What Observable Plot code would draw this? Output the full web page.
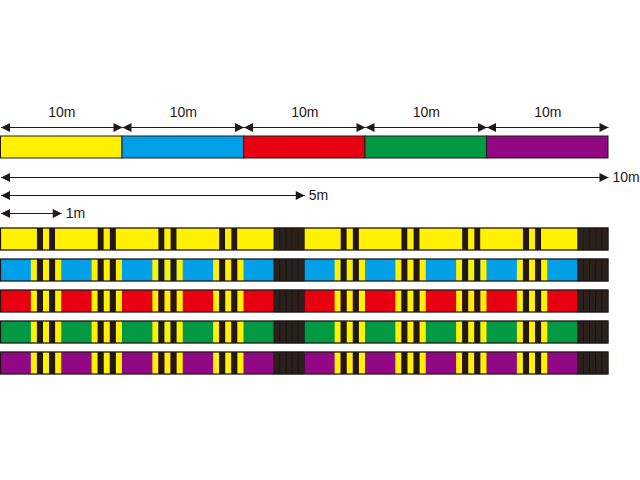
<!DOCTYPE html>
<html><head><meta charset="utf-8">
<script src="https://cdn.jsdelivr.net/npm/d3@7"></script>
<script src="https://cdn.jsdelivr.net/npm/@observablehq/plot@0.6"></script>
<style>
body{margin:0;background:#fff;}
#chart{position:relative;width:640px;height:480px;}
#chart svg{position:absolute;left:0;top:0;}
</style></head><body><div id="chart"></div>
<script>
// ---- data ----
const spoolColors = ["yellow", "blue", "red", "green", "purple"];
const topSegmentLengths = [10, 10, 10, 10, 10];          // metres per colour
const topSegmentLabels = ["10m", "10m", "10m", "10m", "10m"];
const scaleArrowLengths = [10, 5, 1];                      // metres
const scaleArrowLabels = ["10m", "5m", "1m"];
const rowLength = 10;                                      // metres shown per row
const markerStarts = [0.5, 1.5, 2.5, 3.5, 5.5, 6.5, 7.5, 8.5];
const markerStripes = ["yellow", "black", "yellow", "black", "yellow"];
const blockStarts = [4.5, 9.5];
const blockStripeCount = 5;
const stripeWidth = 0.1;

// ---- styles ----
const palette = {yellow: "#fff100", blue: "#00a0e9", red: "#e60012", green: "#009944", purple: "#920783", black: "#231815"};
const ink = "#231815";
const font = "'Liberation Sans', Arial, Helvetica, sans-serif";
const arrowHead = {draw(ctx) { ctx.moveTo(0, 0); ctx.lineTo(-9, -4.5); ctx.lineTo(-9, 4.5); ctx.closePath(); }};
const common = {width: 640, height: 480, margin: 0, style: "background: transparent; overflow: visible;", color: {type: "identity"}};

// ---- derived tables ----
let acc = 0;
const topSegs = spoolColors.map((c, i) => {
  const s = acc; acc += topSegmentLengths[i];
  return {color: palette[c], start: s, end: acc, mid: (s + acc) / 2, label: topSegmentLabels[i]};
});
const topHeads = topSegs.flatMap(d => [{x: d.start, rot: 180}, {x: d.end, rot: 0}]);

const scaleArrows = scaleArrowLengths.map((L, i) => ({len: L, label: scaleArrowLabels[i]}));
const scaleHeads = scaleArrows.flatMap(d => [{x: 0, rot: 180, label: d.label}, {x: d.len, rot: 0, label: d.label}]);

const rowBase = spoolColors.map(c => ({row: c, color: palette[c]}));
const stripes = spoolColors.flatMap(row => markerStarts.flatMap(s => markerStripes.map((sc, k) => ({
  row, color: palette[sc], x1: s + k * stripeWidth, x2: s + (k + 1) * stripeWidth}))));
const blocks = spoolColors.flatMap(row => blockStarts.flatMap(s => d3.range(blockStripeCount).map(k => ({
  row, x1: s + k * stripeWidth, x2: s + (k + 1) * stripeWidth}))));

// ---- top 50 m bar ----
const topPlot = Plot.plot({
  ...common,
  x: {domain: [0, 50], range: [0.5, 608], axis: null},
  y: {type: "band", domain: ["bar"], range: [136, 158], padding: 0, axis: null},
  marks: [
    Plot.link(topSegs, {x1: "start", x2: "end", y1: () => "bar", y2: () => "bar", stroke: ink, strokeWidth: 1.1, dy: -20}),
    Plot.dot(topHeads, {x: "x", y: () => "bar", symbol: arrowHead, rotate: "rot", fill: ink, stroke: "none", dy: -20}),
    Plot.text(topSegs, {x: "mid", y: () => "bar", text: "label", dy: -35, fontSize: 14, fontFamily: font, fill: ink}),
    Plot.barX(topSegs, {x1: "start", x2: "end", y: () => "bar", fill: "color", stroke: ink, strokeWidth: 1})
  ]
});

// ---- scale arrows ----
const arrowPlot = Plot.plot({
  ...common,
  x: {domain: [0, rowLength], range: [0.5, 608], axis: null},
  y: {type: "point", domain: scaleArrowLabels, range: [176, 213], padding: 0, axis: null},
  marks: [
    Plot.link(scaleArrows, {x1: () => 0, x2: "len", y1: "label", y2: "label", stroke: ink, strokeWidth: 1.1}),
    Plot.dot(scaleHeads, {x: "x", y: "label", symbol: arrowHead, rotate: "rot", fill: ink, stroke: "none"}),
    Plot.text(scaleArrows, {x: "len", y: "label", text: "label", dx: 4, textAnchor: "start", fontSize: 14, fontFamily: font, fill: ink})
  ]
});

// ---- marked line rows ----
const rowPlot = Plot.plot({
  ...common,
  x: {domain: [0, rowLength], range: [0.5, 608], axis: null},
  y: {type: "band", domain: spoolColors, range: [227, 374], paddingInner: 0.296, paddingOuter: 0, axis: null},
  marks: [
    Plot.barX(rowBase, {x1: () => 0, x2: () => rowLength, y: "row", fill: "color"}),
    Plot.barX(stripes, {x1: "x1", x2: "x2", y: "row", fill: "color"}),
    Plot.barX(blocks, {x1: "x1", x2: "x2", y: "row", fill: "#2a201c", stroke: "#120d0b", strokeWidth: 0.5}),
    Plot.barX(rowBase, {x1: () => 0, x2: () => rowLength, y: "row", fill: "none", stroke: ink, strokeWidth: 1.3})
  ]
});

const chart = document.getElementById("chart");
chart.append(topPlot, arrowPlot, rowPlot);
</script></body></html>
